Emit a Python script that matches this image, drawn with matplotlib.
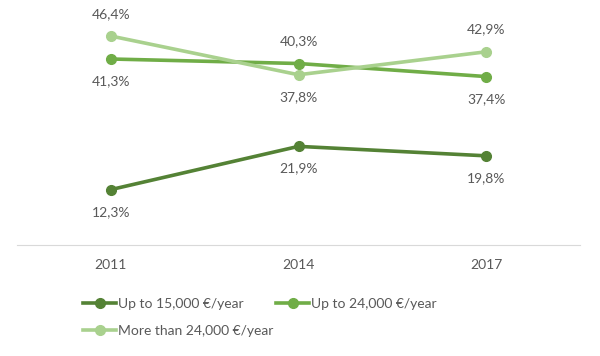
import numpy as np
import matplotlib.pyplot as plt

years = ['2011', '2014', '2017']
low_income = [12.3, 21.9, 19.8]
mid_income = [41.3, 40.3, 37.4]
high_income = [46.4, 37.8, 42.9]

names = ['Up to 15,000 €/year', 'Up to 24,000 €/year', 'More than 24,000 €/year']
colors = ['#548235', '#70AD47', '#A9D18E']
# label position per point: +1 above, -1 below
label_side = [[-1, -1, -1], [-1, 1, -1], [1, -1, 1]]

plt.rcParams['font.family'] = ['Lato', 'DejaVu Sans']

fig = plt.figure(figsize=(6, 3.56), dpi=100)
ax = fig.add_axes([17 / 600, 1 - 245 / 356, 563 / 600, 245 / 356])

x = np.arange(len(years))
handles = []
for vals, name, col, sides in zip([low_income, mid_income, high_income], names, colors, label_side):
    h, = ax.plot(x, vals, color=col, lw=2.6, marker='o', ms=7, label=name)
    handles.append(h)
    for xi, v, s in zip(x, vals, sides):
        ax.annotate('{:.1f}%'.format(v).replace('.', ','), (xi, v),
                    xytext=(0, 16 * s), textcoords='offset points',
                    ha='center', va='center', fontsize=10, color='#595959')

ax.set_xlim(-0.5, 2.5)
ax.set_ylim(0, 54.4)
ax.set_xticks(x)
ax.set_xticklabels(years, fontsize=10, color='#595959')
ax.tick_params(axis='x', length=0, pad=10)
ax.set_yticks([])
for side in ['top', 'left', 'right']:
    ax.spines[side].set_visible(False)
ax.spines['bottom'].set_color('#D9D9D9')

# legend fills by column, so reorder to get two per row
order = [0, 2, 1]
fig.legend(handles=[handles[i] for i in order], loc='upper left',
           bbox_to_anchor=(83 / 600, 1 - 298 / 356),
           ncol=2, frameon=False, fontsize=10, labelcolor='#595959',
           handlelength=2.4, handletextpad=0.1, columnspacing=0.2, labelspacing=1.1,
           borderaxespad=0, borderpad=0)

fig.savefig('out.png', dpi=100)
